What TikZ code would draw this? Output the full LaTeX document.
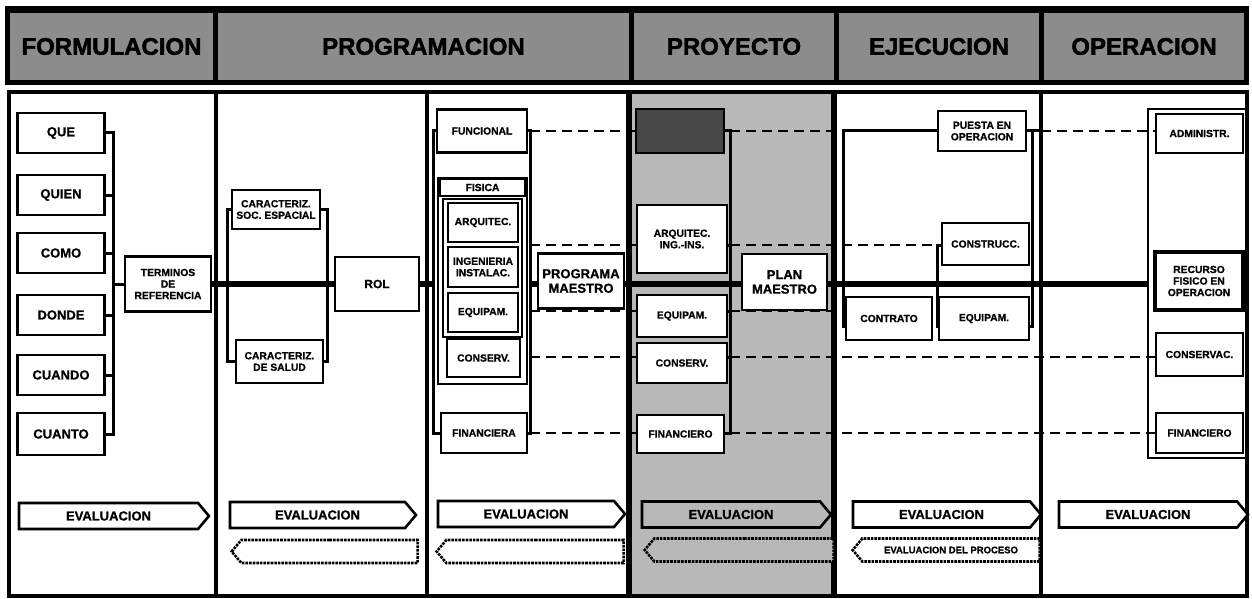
\documentclass[tikz,border=0pt]{standalone}
\usepackage{fontspec}
\setmainfont{Liberation Sans}
\newfontfamily\hfont[FakeBold=1.8]{Liberation Sans Bold}
\newfontfamily\bfnt[FakeBold=0.9]{Liberation Sans Bold}
\usetikzlibrary{shapes.symbols}
\pgfdeclarelayer{back}
\pgfdeclarelayer{mid}
\pgfsetlayers{back,mid,main}
\begin{document}
\begin{tikzpicture}[x=1pt,y=-1pt,
 bx/.style={draw,line width=2.8pt,fill=white,align=center,inner sep=1pt,font=\bfnt\fontsize{10.3}{11.5}\selectfont},
 bigt/.style={font=\bfnt\fontsize{13}{14.5}\selectfont},
 sz/.style 2 args={minimum width=#1pt,minimum height=#2pt},
 hd/.style={fill=black!45,inner sep=0pt,font=\hfont\fontsize{24}{24}\selectfont},
 brk/.style={line width=3pt,line cap=rect},
 mainln/.style={line width=6pt},
 dsh/.style={line width=2.8pt,dash pattern=on 10pt off 6pt},
 evl/.style={signal,signal to=east,signal pointer angle=100,draw,line width=2.6pt,fill=white,minimum height=26pt,inner sep=0pt,font=\bfnt\fontsize{13}{14}\selectfont},
 bck/.style={signal,signal to=west,signal pointer angle=100,draw,line width=2.6pt,densely dotted,fill=white,minimum height=23pt,inner sep=0pt,font=\bfnt\fontsize{9.5}{10}\selectfont},
]
\useasboundingbox (0,0) rectangle (1252,599);
% ---------------- header
\fill (5,6) rectangle (1249,85);
\node[hd,sz={203}{67}] (hF) at (111.5,46.5) {FORMULACION};
\node[hd,sz={411}{67}] (hP) at (423.5,46.5) {PROGRAMACION};
\node[hd,sz={200}{67}] (hPr) at (734,46.5) {PROYECTO};
\node[hd,sz={200}{67}] (hE) at (939,46.5) {EJECUCION};
\node[hd,sz={200}{67}] (hO) at (1144,46.5) {OPERACION};
% ---------------- body background
\begin{pgfonlayer}{back}
\fill[white] (9,92) rectangle (1247,596);
\fill[black!28] (629,92) rectangle (834,596);
\draw[line width=5.5pt] (629,92) -- (629,596);
\draw[line width=5.5pt] (834,92) -- (834,596);
\draw[line width=4pt] (216,92) -- (216,596);
\draw[line width=3.5pt] (427,92) -- (427,596);
\draw[line width=3.5pt] (1041,92) -- (1041,596);
\draw[line width=3.5pt] (9,92) rectangle (1247,596);
\end{pgfonlayer}
% ---------------- coordinates
\coordinate (b1) at (113,284);
\coordinate (b2l) at (227,284);
\coordinate (b2r) at (327,284);
\coordinate (b3l) at (433,284);
\coordinate (b3r) at (530,284);
\coordinate (b4) at (730,284);
\coordinate (b5l) at (843,284);
\coordinate (b5m) at (937,284);
\coordinate (b5r) at (1032,284);
\coordinate (dv5) at (1041,284);
\coordinate (rT) at (0,131);
\coordinate (rA) at (0,245);
\coordinate (rE) at (0,311);
\coordinate (rC) at (0,357);
\coordinate (rF) at (0,433);
\coordinate (rB) at (0,326);
% ---------------- FORMULACION
\node[bx,sz={87}{40},font=\bfnt\fontsize{13}{14}\selectfont] (que) at (61,133) {QUE};
\node[bx,sz={87}{40},font=\bfnt\fontsize{13}{14}\selectfont] (quien) at (61,195) {QUIEN};
\node[bx,sz={87}{40},font=\bfnt\fontsize{13}{14}\selectfont] (como) at (61,253) {COMO};
\node[bx,sz={87}{40},font=\bfnt\fontsize{13}{14}\selectfont] (donde) at (61,315) {DONDE};
\node[bx,sz={87}{40},font=\bfnt\fontsize{13}{14}\selectfont] (cuando) at (61,375) {CUANDO};
\node[bx,sz={87}{42},font=\bfnt\fontsize{13}{14}\selectfont] (cuanto) at (61,434) {CUANTO};
\node[bx,sz={86}{55}] (ter) at (168,284) {TERMINOS\\DE\\REFERENCIA};
% ---------------- PROGRAMACION
\node[bx,sz={88}{39}] (cse) at (276,209.5) {CARACTERIZ.\\SOC. ESPACIAL};
\node[bx,sz={87}{43}] (csa) at (279.5,361.5) {CARACTERIZ.\\DE SALUD};
\node[bx,sz={84}{54},font=\bfnt\fontsize{12}{13}\selectfont] (rol) at (377,284) {ROL};
\node[bx,sz={90}{43}] (fun) at (482,131) {FUNCIONAL};
\node[bx,sz={89}{206},line width=2.4pt] (fis) at (482.5,281) {};
\node[bx,sz={85}{17},line width=1.8pt] (fisl) at (482.5,187.5) {FISICA};
\node[bx,sz={79}{138},line width=2.4pt] (fisin) at (482.5,268) {};
\node[bx,sz={70}{39}] (arq) at (483,222.5) {ARQUITEC.};
\node[bx,sz={70}{40}] (ing) at (483,267) {INGENIERIA\\INSTALAC.};
\node[bx,sz={70}{39}] (equ) at (483,312.5) {EQUIPAM.};
\node[bx,sz={73}{38}] (con) at (483.5,358) {CONSERV.};
\node[bx,sz={86}{40}] (fin) at (484,433) {FINANCIERA};
\node[bx,sz={86}{55},bigt] (pm) at (581,281) {PROGRAMA\\MAESTRO};
% ---------------- PROYECTO
\node[bx,sz={88}{44},fill=black!72] (dk) at (680,131) {};
\node[bx,sz={90}{68}] (pai) at (682,239) {ARQUITEC.\\ING.-INS.};
\node[bx,sz={90}{42}] (peq) at (682,316) {EQUIPAM.};
\node[bx,sz={90}{40}] (pco) at (682,363) {CONSERV.};
\node[bx,sz={87}{38}] (pfi) at (680.5,434) {FINANCIERO};
\node[bx,sz={85}{56},bigt] (plan) at (784.5,282) {PLAN\\MAESTRO};
% ---------------- EJECUCION
\node[bx,sz={88}{40}] (pue) at (982,131) {PUESTA EN\\OPERACION};
\node[bx,sz={87}{42}] (cons) at (985.5,244) {CONSTRUCC.};
\node[bx,sz={86}{43}] (cont) at (889,318.5) {CONTRATO};
\node[bx,sz={90}{43}] (eeq) at (984,318.5) {EQUIPAM.};
% ---------------- OPERACION
\node[draw,line width=2.8pt,sz={99}{349}] (ofr) at (1197.5,283.5) {};
\node[bx,sz={87}{39}] (adm) at (1199.5,133.5) {ADMINISTR.};
\node[bx,sz={88}{58},line width=3.6pt] (rec) at (1199,281) {RECURSO\\FISICO EN\\OPERACION};
\node[bx,sz={87}{43}] (csv) at (1199.5,354.5) {CONSERVAC.};
\node[bx,sz={87}{40}] (ofi) at (1199.5,433) {FINANCIERO};
% ---------------- EVALUACION arrows
\node[evl,minimum width=190pt] (ev1) at (108.5,516) {EVALUACION};
\node[evl,minimum width=186pt] (ev2) at (317.5,515) {EVALUACION};
\node[bck,minimum width=186pt] (bk2) at (329.5,551.5) {};
\node[evl,minimum width=187pt] (ev3) at (526,514) {EVALUACION};
\node[bck,minimum width=187pt] (bk3) at (535,551.5) {};
\node[evl,minimum width=189pt,fill=black!28] (ev4) at (731,514.5) {EVALUACION};
\node[bck,minimum width=189pt,fill=black!28] (bk4) at (744,550) {};
\node[evl,minimum width=188pt] (ev5) at (941.5,514.5) {EVALUACION};
\node[bck,minimum width=187pt] (bk5) at (951,550) {EVALUACION DEL PROCESO};
\node[evl,minimum width=189pt] (ev6) at (1148,514.5) {EVALUACION};
% ---------------- connectors
\begin{pgfonlayer}{mid}
\foreach \n in {que,quien,como,donde,cuando,cuanto} \draw[brk] (\n.east) -- (\n.east -| b1);
\draw[brk] (que.east -| b1) -- (cuanto.east -| b1);
\draw[brk] (b1) -- (ter.west);
\draw[mainln] (ter.east) -- (rol.west);
\draw[brk] (cse.west) -| (b2l) |- (csa.west);
\draw[brk] (cse.east) -| (b2r) |- (csa.east);
\draw[brk] (fun.west) -| (b3l) |- (fin.west);
\draw[brk] (fun.east) -| (b3r) |- (fin.east);
\draw[mainln] (rol.east) -- (b3l);
\draw[mainln] (b3r) -- (b3r -| pm.west);
\draw[mainln] (pm.east |- b3r) -- (plan.west |- b3r);
\draw[mainln] (plan.east |- b3r) -- (ofr.west |- b3r);
% PROYECTO bracket
\draw[brk] (b4 |- rT) -- (b4 |- rF);
\draw[brk] (dk.east |- rT) -- (b4 |- rT);
\draw[brk] (pai.east |- rA) -- (b4 |- rA);
\draw[brk] (peq.east |- rE) -- (b4 |- rE);
\draw[brk] (pco.east |- rC) -- (b4 |- rC);
\draw[brk] (pfi.east |- rF) -- (b4 |- rF);
% EJECUCION brackets
\draw[brk] (pue.west) -- (b5l |- rT) -- (b5l |- rB) -- (cont.west |- rB);
\draw[brk] (pue.east) -- (dv5 |- rT);
\draw[brk] (b5r |- rT) -- (b5r |- rB) -- (eeq.east |- rB);
\draw[brk] (b5m |- rA) -- (b5m |- rB);
\draw[brk] (b5m |- rA) -- (cons.west |- rA);
% dashed links
\draw[dsh] (b3r |- rT) -- (dk.west |- rT);
\draw[dsh] (b3r |- rA) -- (pai.west |- rA);
\draw[dsh] (b3r |- rE) -- (peq.west |- rE);
\draw[dsh] (b3r |- rC) -- (pco.west |- rC);
\draw[dsh] (b3r |- rF) -- (pfi.west |- rF);
\draw[dsh] (b4 |- rT) -- (b5l |- rT);
\draw[dsh] (b4 |- rA) -- (b5m |- rA);
\draw[dsh] (b4 |- rE) -- (cont.west |- rE);
\draw[dsh] (b4 |- rC) -- (csv.west |- rC);
\draw[dsh] (b4 |- rF) -- (ofi.west |- rF);
\draw[dsh] (dv5 |- rT) -- (adm.west |- rT);
\end{pgfonlayer}
\end{tikzpicture}
\end{document}
